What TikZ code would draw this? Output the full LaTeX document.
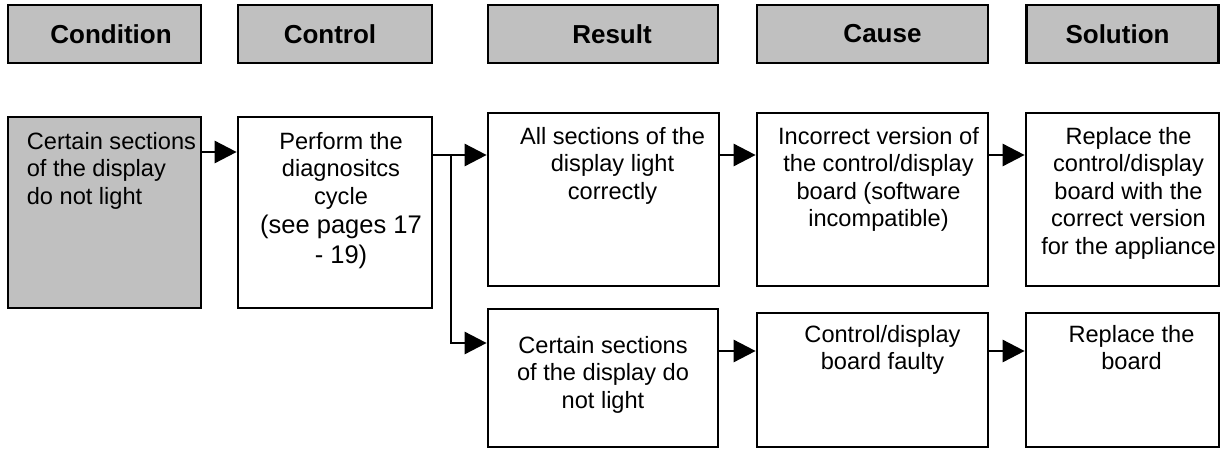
\documentclass[tikz,border=0pt]{standalone}
\usepackage{fontspec}
\setmainfont{Liberation Sans}
\usetikzlibrary{arrows.meta}
\definecolor{headgray}{HTML}{C0C0C0}

\begin{document}
\begin{tikzpicture}[x=1pt, y=-1pt]

  \tikzstyle{header} = [rectangle, minimum height=58pt, text centered, draw=black, line width=2.7pt, fill=headgray, font=\fontsize{26}{30}\selectfont\bfseries]
  \tikzstyle{box}    = [rectangle, draw=black, line width=2.7pt, fill=white]
  \tikzstyle{txt}    = [anchor=north, inner sep=0pt, align=center, font=\fontsize{23.6}{27.5}\selectfont]
  \tikzstyle{arrow}  = [line width=2.7pt, -{Triangle[length=22pt, width=22pt]}]

  \useasboundingbox (0,0) rectangle (1228,450);

  % column heads
  \node (hcond)  [header, minimum width=193pt] at (104.5,34) {\hspace*{13pt}Condition};
  \node (hctrl)  [header, minimum width=194pt] at (335,34)   {Control\hspace*{10pt}};
  \node (hres)   [header, minimum width=230pt] at (603,34)   {\hspace*{18pt}Result};
  \node (hcause) [header, minimum width=231pt] at (872.5,34) {\hspace*{20pt}Cause};
  \node (hsol)   [header, minimum width=192pt] at (1122.5,34) {Solution\hspace*{10pt}};

  % first two steps
  \node (cond) [box, fill=headgray, minimum width=193pt, minimum height=191pt] at (104.5,212.5) {};
  \node (condtext) [txt, anchor=north west, align=left] at ([xshift=20pt, yshift=-16.5pt]cond.north west) {Certain sections\\of the display\\do not light};

  \node (ctrl) [box, minimum width=194pt, minimum height=191pt] at (335,212.5) {};
  \node (ctrltext) [txt] at ([xshift=6pt, yshift=-16.5pt]ctrl.north) {Perform the\\diagnositcs\\cycle\\[2pt]{\fontsize{25.5}{29}\selectfont(see pages 17}\\[2pt]{\fontsize{25.5}{29}\selectfont- 19)}};

  % upper branch
  \node (res1) [box, minimum width=231pt, minimum height=173pt] at (603.5,199.5) {};
  \node (res1text) [txt] at ([xshift=9pt, yshift=-15.5pt]res1.north) {All sections of the\\display light\\correctly};

  \node (cause1) [box, minimum width=231pt, minimum height=173pt] at (872.5,199.5) {};
  \node (cause1text) [txt] at ([xshift=6pt, yshift=-15.5pt]cause1.north) {Incorrect version of\\the control/display\\board (software\\incompatible)};

  \node (sol1) [box, minimum width=193pt, minimum height=173pt] at (1122.5,199.5) {};
  \node (sol1text) [txt] at ([xshift=6pt, yshift=-15.5pt]sol1.north) {Replace the\\control/display\\board with the\\correct version\\for the appliance};

  % lower branch
  \node (res2) [box, minimum width=230pt, minimum height=138pt] at (603,378) {};
  \node (res2text) [txt] at ([yshift=-28.5pt]res2.north) {Certain sections\\of the display do\\not light};

  \node (cause2) [box, minimum width=231pt, minimum height=134pt] at (872.5,380) {};
  \node (cause2text) [txt] at ([xshift=10pt, yshift=-13.5pt]cause2.north) {Control/display\\board faulty};

  \node (sol2) [box, minimum width=193pt, minimum height=134pt] at (1122.5,380) {};
  \node (sol2text) [txt] at ([xshift=9pt, yshift=-13.5pt]sol2.north) {Replace the\\board};

  % arrow levels
  \coordinate (lvlA) at (0,152);
  \coordinate (lvlB) at (0,155);
  \coordinate (lvlC) at (0,343);
  \coordinate (lvlD) at (0,351);
  \coordinate (fork) at (451,155);

  \draw [arrow] (cond.east |- lvlA) -- (ctrl.west |- lvlA);
  \draw [arrow] (ctrl.east |- lvlB) -- (res1.west |- lvlB);
  \draw [arrow] (fork) |- (res2.west |- lvlC);
  \draw [arrow] (res1.east |- lvlB) -- (cause1.west |- lvlB);
  \draw [arrow] (cause1.east |- lvlB) -- (sol1.west |- lvlB);
  \draw [arrow] (res2.east |- lvlD) -- (cause2.west |- lvlD);
  \draw [arrow] (cause2.east |- lvlD) -- (sol2.west |- lvlD);

\end{tikzpicture}
\end{document}
